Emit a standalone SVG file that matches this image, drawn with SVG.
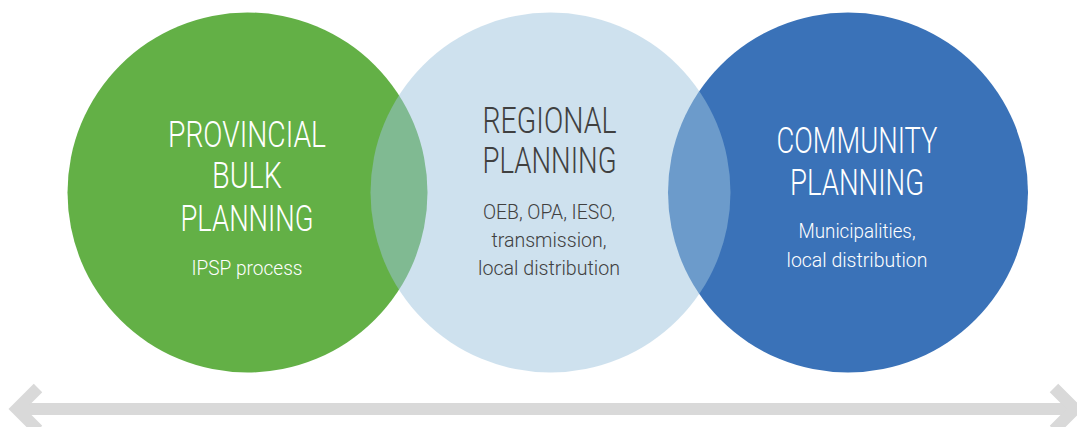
<svg xmlns="http://www.w3.org/2000/svg" width="1077" height="427" viewBox="0 0 1077 427">
  <style>
    .title { font-family: Roboto, "Liberation Sans", sans-serif; font-weight: 300; font-size: 36px; text-anchor: middle; }
    .sub { font-family: Roboto, "Liberation Sans", sans-serif; font-weight: 300; font-size: 21px; text-anchor: middle; }
    .light { fill: #ffffff; }
    .dark { fill: #404040; }
    .axis { fill: none; stroke: #d9d9d9; stroke-width: 12; stroke-linejoin: miter; stroke-linecap: butt; }
  </style>

  <!-- planning scale: circles -->
  <g id="provincial">
    <circle cx="247.5" cy="192.5" r="180" fill="#63b046"/>
  </g>
  <g id="community">
    <circle cx="848" cy="192.5" r="180" fill="#3a72b8"/>
  </g>
  <g id="regional">
    <!-- translucent so the overlaps blend with both neighbours -->
    <circle cx="550.5" cy="192.5" r="180" fill="#9ec4dd" fill-opacity="0.5"/>
  </g>

  <!-- labels -->
  <g id="provincial-label">
    <text class="title light" x="247" y="146.5" textLength="158" lengthAdjust="spacingAndGlyphs">PROVINCIAL</text>
    <text class="title light" x="247" y="187.5" textLength="70" lengthAdjust="spacingAndGlyphs">BULK</text>
    <text class="title light" x="247" y="230.5" textLength="133" lengthAdjust="spacingAndGlyphs">PLANNING</text>
    <text class="sub light" x="247" y="275" textLength="111" lengthAdjust="spacingAndGlyphs">IPSP process</text>
  </g>
  <g id="regional-label">
    <text class="title dark" x="549.5" y="133.3" textLength="134" lengthAdjust="spacingAndGlyphs">REGIONAL</text>
    <text class="title dark" x="549.5" y="173.3" textLength="134" lengthAdjust="spacingAndGlyphs">PLANNING</text>
    <text class="sub dark" x="549" y="219.3" textLength="132" lengthAdjust="spacingAndGlyphs">OEB, OPA, IESO,</text>
    <text class="sub dark" x="549" y="246.7" textLength="115" lengthAdjust="spacingAndGlyphs">transmission,</text>
    <text class="sub dark" x="549" y="275" textLength="142" lengthAdjust="spacingAndGlyphs">local distribution</text>
  </g>
  <g id="community-label">
    <text class="title light" x="857" y="153.3" textLength="161" lengthAdjust="spacingAndGlyphs">COMMUNITY</text>
    <text class="title light" x="857" y="195" textLength="134" lengthAdjust="spacingAndGlyphs">PLANNING</text>
    <text class="sub light" x="857" y="238.3" textLength="117" lengthAdjust="spacingAndGlyphs">Municipalities,</text>
    <text class="sub light" x="857" y="266.7" textLength="141" lengthAdjust="spacingAndGlyphs">local distribution</text>
  </g>

  <!-- double-headed axis beneath the circles -->
  <g id="connectors">
    <line class="axis" x1="17" y1="409" x2="1072" y2="409"/>
    <polyline class="axis" points="38,388 17,409 38,430"/>
    <polyline class="axis" points="1054,388 1075,409 1054,430"/>
  </g>
</svg>
